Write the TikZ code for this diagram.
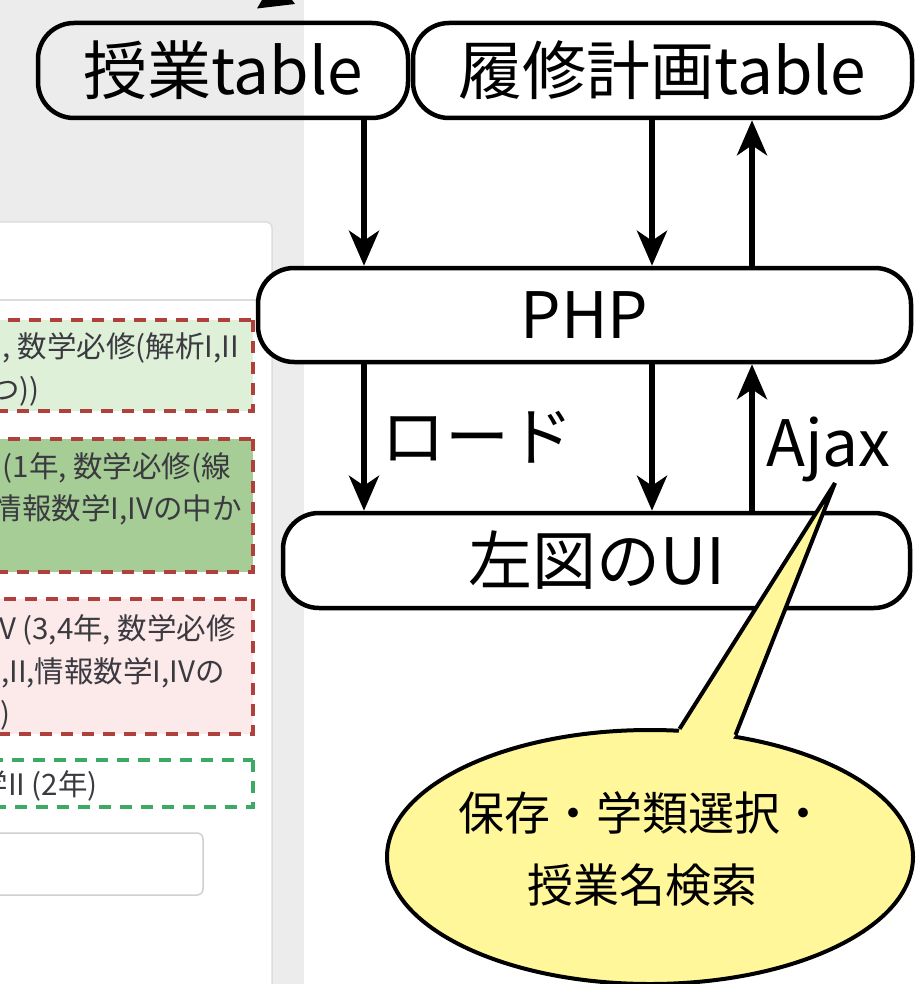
\documentclass[tikz,border=0pt]{standalone}
\usepackage{fontspec}
\setmainfont{Noto Sans CJK JP}
\usetikzlibrary{arrows.meta,shapes.geometric,calc}
\definecolor{bggray}{RGB}{236,236,236}
\definecolor{panelline}{RGB}{221,221,221}
\definecolor{inputline}{RGB}{208,208,208}
\definecolor{boxAfill}{RGB}{223,240,216}
\definecolor{boxBfill}{RGB}{166,205,150}
\definecolor{boxCfill}{RGB}{252,233,233}
\definecolor{reddash}{RGB}{176,64,60}
\definecolor{greendash}{RGB}{60,170,100}
\definecolor{ptextc}{RGB}{58,58,64}
\definecolor{callY}{RGB}{255,247,153}
\begin{document}
\begin{tikzpicture}[x=1pt,y=-1pt,
  tbox/.style={draw, line width=4.5pt, rounded corners=36pt, inner sep=0pt,
    font=\fontsize{64}{76}\selectfont},
  arr/.style={line width=5.5pt, -{Stealth[length=35pt,width=30pt,inset=10pt]}},
  lbl/.style={inner sep=0pt, font=\fontsize{64}{76}\selectfont},
  ptext/.style={anchor=base east, inner sep=0pt, text=ptextc,
    font=\fontsize{29.5}{34}\selectfont},
  dashbox/.style={line width=4pt, dash pattern=on 12pt off 9pt},
  calltext/.style={inner sep=0pt, align=center,
    font=\fontsize{46}{72}\selectfont}]
\useasboundingbox (0,0) rectangle (916,984);
\clip (0,0) rectangle (916,984);
% screenshot background
\fill[bggray] (0,0) rectangle (304,984);
\draw[panelline, line width=1.5pt, fill=white, rounded corners=6pt] (-20,222) rectangle (272,1010);
\draw[panelline, line width=1.5pt] (-20,300) -- (271,300);
% coloured dashed boxes
\path[fill=boxAfill, draw=reddash, dashbox] (253,320) rectangle (-20,411);
\path[fill=boxBfill, draw=reddash, dashbox] (253,439) rectangle (-20,572);
\path[fill=boxCfill, draw=reddash, dashbox] (253,599) rectangle (-20,734);
\path[fill=white, draw=greendash, dashbox] (253,760) rectangle (-20,807);
\draw[inputline, line width=1.5pt, fill=white, rounded corners=6pt] (-20,833) rectangle (203,895);
% panel texts
\node[ptext] (t1a) at (239,357) {, 数学必修(解析I,II};
\node[ptext] (t1b) at (40,400) {つ))};
\node[ptext] (t2a) at (231,477) {(1年, 数学必修(線};
\node[ptext] (t2b) at (242,519) {情報数学I,IVの中か};
\node[ptext] (t3a) at (236,639) {V (3,4年, 数学必修};
\node[ptext] (t3b) at (225,682) {,II,情報数学I,IVの};
\node[ptext] (t3c) at (11,724) {)};
\node[ptext] (t4a) at (98,795) {学II (2年)};
% partial arrowhead at the top
\fill (257,8.5) -- (295,4) -- (292,0) -- (262,0) -- cycle;
% diagram boxes
\node[tbox, minimum width=370pt, minimum height=95pt] (jugyo) at (223,70.5) {授業table};
\node[tbox, minimum width=499pt, minimum height=95pt] (rishu) at (662.5,70.5) {履修計画table};
\node[tbox, fill=white, minimum width=653pt, minimum height=94pt] (php) at (584.5,315) {PHP};
\node[tbox, fill=white, minimum width=627pt, minimum height=95pt] (ui) at (596.5,560.5) {左図のUI};
% arrows
\coordinate (a1) at (364,0);
\coordinate (a2) at (652,0);
\coordinate (a3) at (752,0);
\draw[arr] (jugyo.south -| a1) -- (php.north -| a1);
\draw[arr] (rishu.south -| a2) -- (php.north -| a2);
\draw[arr] (php.north -| a3) -- (rishu.south -| a3);
\draw[arr] (php.south -| a1) -- (ui.north -| a1);
\draw[arr] (php.south -| a2) -- (ui.north -| a2);
\draw[arr] (ui.north -| a3) -- (php.south -| a3);
\node[lbl, anchor=west] (load) at (381,437) {ロード};
\node[lbl, anchor=base west] (ajax) at (766,466) {Ajax};
% callout
\node[ellipse, draw, fill=callY, line width=4pt, minimum width=526pt, minimum height=254pt, inner sep=0pt] (bubble) at (650,857) {};
\coordinate (tip) at (835,483);
\fill[callY] (tip) -- (bubble.77.5) -- ($(bubble.77.5)!12pt!(bubble.center)$) -- ($(bubble.55.4)!12pt!(bubble.center)$) -- (bubble.55.4) -- cycle;
\draw[line width=4pt, line join=miter] (bubble.77.5) -- (tip) -- (bubble.55.4);
\node[calltext] (ctext) at (642,849) {保存・学類選択・\\授業名検索};
\end{tikzpicture}
\end{document}
